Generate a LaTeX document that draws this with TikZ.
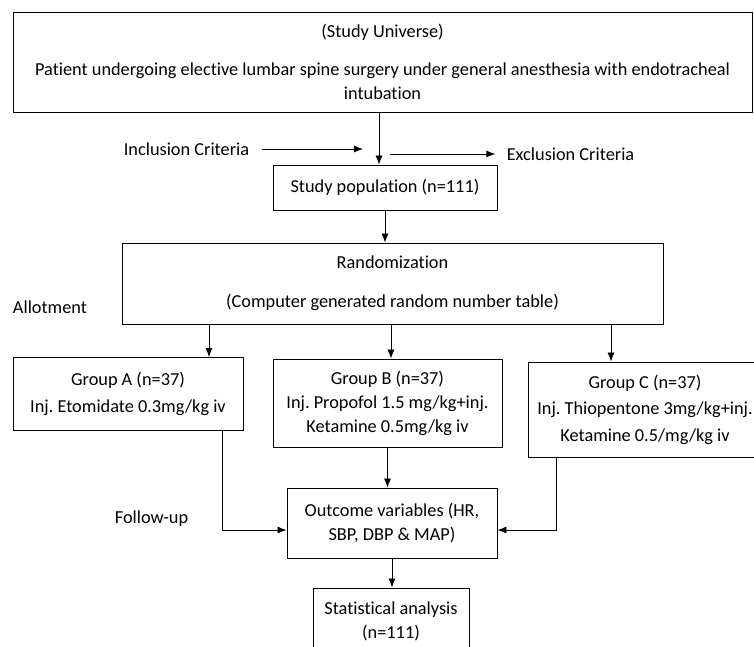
\documentclass[tikz,border=0pt]{standalone}
\usepackage{fontspec}
\setmainfont[Ligatures=NoCommon]{Carlito}
\usetikzlibrary{arrows.meta}

\begin{document}
\frenchspacing
\begin{tikzpicture}[x=1pt,y=-1pt,>={Latex[length=9pt,width=7pt]},line width=0.8pt,font=\fontsize{18.3}{24}\selectfont,text=black,
		bloco/.style={draw, line width=0.9pt, inner sep=0pt, align=center},
		rotulo/.style={inner sep=0pt}]
		\useasboundingbox (0,0) rectangle (754,646);
		\fill [white] (0,0) rectangle (754,646);
		\clip (0,0) rectangle (754,646);
		\node [bloco, minimum width=739pt, minimum height=100pt] (a) at (382.5,62) {(Study Universe)\\[14pt]Patient undergoing elective lumbar spine surgery under general anesthesia with endotracheal\\intubation};
		\node [rotulo] (inc) at (186.5,149) {Inclusion Criteria};
		\coordinate (incend) at (363,149);
		\coordinate (excstart) at (390,154);
		\node [rotulo] (exc) at (570.5,154) {Exclusion Criteria};
		\node [bloco, minimum width=224pt, minimum height=45pt] (b) at (385,187.5) {Study population (n=111)};
		\node [bloco, minimum width=541pt, minimum height=81pt] (c) at (392.5,283.5) {Randomization\\[15pt](Computer generated random number table)};
		\node [rotulo] (allot) at (50,307) {Allotment};
		\node [bloco, minimum width=230pt, minimum height=73pt] (d) at (128,394) {Group A (n=37)\\[3pt]Inj. Etomidate 0.3mg/kg iv};
		\node [bloco, minimum width=229pt, minimum height=88pt] (e) at (387.5,403) {Group B (n=37)\\Inj. Propofol 1.5 mg/kg+inj.\\Ketamine 0.5mg/kg iv};
		\node [bloco, minimum width=234pt, minimum height=95pt] (f) at (645,409.5) {Group C (n=37)\\[2pt]Inj. Thiopentone 3mg/kg+inj.\\[3pt]Ketamine 0.5/mg/kg iv};
		\node [rotulo] (follow) at (151.5,519) {Follow-up};
		\node [bloco, minimum width=210pt, minimum height=70pt] (g) at (392,523) {Outcome variables (HR,\\SBP, DBP \& MAP)};
		\node [bloco, minimum width=156pt, minimum height=67pt] (h) at (391,621.5) {Statistical analysis\\(n=111)};

		\draw[->] ([xshift=-3.5pt]a.south) -- ([xshift=-6pt]b.north);
		\draw[->] ([xshift=12pt]inc.east) -- (incend);
		\draw[->] (excstart) -- ([xshift=-11pt]exc.west);
		\draw[->] (b.south) -- (b.south |- c.north);
		\draw[->] ([xshift=-183.5pt]c.south) -- ([xshift=81pt]d.north);
		\draw[->] ([xshift=-1.5pt]c.south) -- ([xshift=3.5pt]e.north);
		\draw[->] ([xshift=218.5pt]c.south) -- ([xshift=-34pt]f.north);
		\draw[->] (e.south) -- (e.south |- g.north);
		\draw[->] ([xshift=-21pt]d.south east) |- ([yshift=-7pt]g.west);
		\draw[->] ([xshift=29pt]f.south west) |- ([yshift=-7pt]g.east);
		\draw[->] (g.south) -- (g.south |- h.north);
\end{tikzpicture}
\end{document}
